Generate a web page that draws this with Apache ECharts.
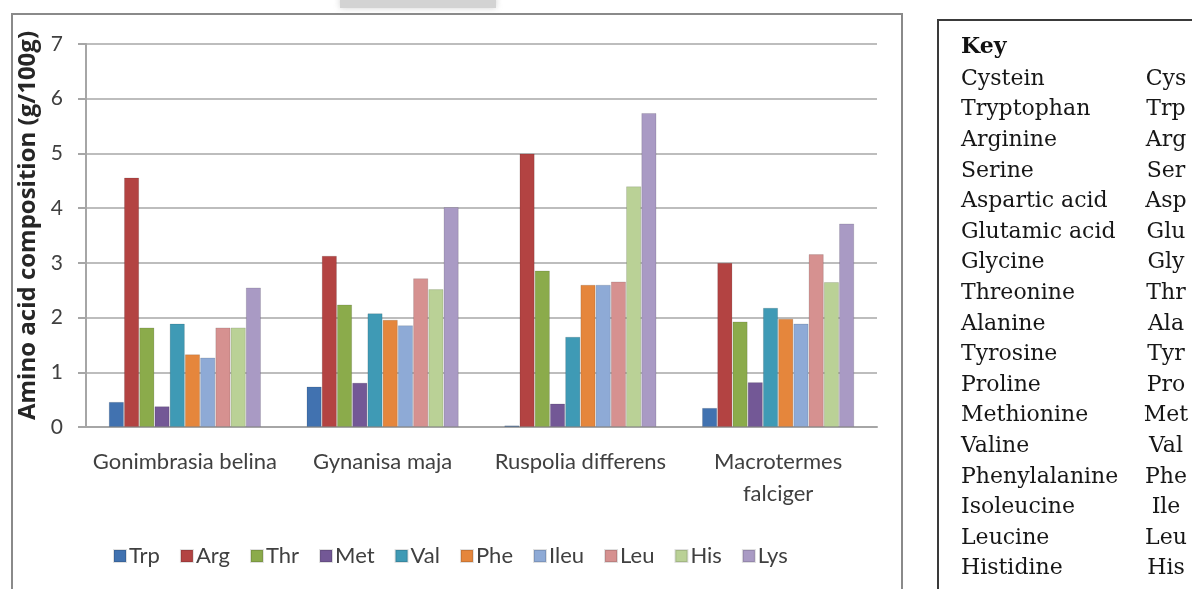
<!DOCTYPE html>
<html>
<head>
<meta charset="utf-8">
<style>
  html, body { margin: 0; padding: 0; background: #ffffff; }
  #chart { width: 1192px; height: 589px; }
</style>
<script src="https://cdn.jsdelivr.net/npm/echarts@6/dist/echarts.min.js"></script>
</head>
<body>
<div id="chart"></div>
<script>
// Insect species on the category axis
const species = ['Gonimbrasia belina', 'Gynanisa maja', 'Ruspolia differens', 'Macrotermes\nfalciger'];

// Amino acid content, g per 100 g, one array per amino acid (order follows species)
const trp  = [0.46, 0.74, 0.03, 0.35];
const arg  = [4.56, 3.13, 5.00, 3.00];
const thr  = [1.82, 2.24, 2.86, 1.93];
const met  = [0.38, 0.81, 0.43, 0.82];
const val  = [1.89, 2.08, 1.65, 2.18];
const phe  = [1.33, 1.96, 2.60, 1.98];
const ileu = [1.27, 1.86, 2.60, 1.89];
const leu  = [1.82, 2.72, 2.66, 3.16];
const his  = [1.82, 2.52, 4.40, 2.65];
const lys  = [2.55, 4.02, 5.74, 3.72];

const seriesNames = ['Trp', 'Arg', 'Thr', 'Met', 'Val', 'Phe', 'Ileu', 'Leu', 'His', 'Lys'];
const seriesValues = [trp, arg, thr, met, val, phe, ileu, leu, his, lys];
const seriesColors = ['#4172b0', '#b34342', '#8bab4b', '#735896', '#3f9ab5', '#e5863c', '#8eaad6', '#d69190', '#bad196', '#a99ac4'];

// Y axis ticks
const yTicks = [0, 1, 2, 3, 4, 5, 6, 7];

// Abbreviation key shown beside the chart
const keyNames = ['Cystein', 'Tryptophan', 'Arginine', 'Serine', 'Aspartic acid', 'Glutamic acid', 'Glycine',
  'Threonine', 'Alanine', 'Tyrosine', 'Proline', 'Methionine', 'Valine', 'Phenylalanine', 'Isoleucine', 'Leucine', 'Histidine'];
const keyAbbr = ['Cys', 'Trp', 'Arg', 'Ser', 'Asp', 'Glu', 'Gly', 'Thr', 'Ala', 'Tyr', 'Pro', 'Met', 'Val', 'Phe', 'Ile', 'Leu', 'His'];

const uiFont = 'Lato, "Open Sans", sans-serif';
const titleFont = '"Open Sans", Lato, sans-serif';
const keyFont = '"DejaVu Serif", "Liberation Serif", serif';

const chart = echarts.init(document.getElementById('chart'), null, { renderer: 'canvas' });

const keyGraphics = [];
keyGraphics.push({
  type: 'text', left: 961, top: 36, z: 10,
  style: { text: 'Key', font: 'bold 22px ' + keyFont, fill: '#111' }
});
keyNames.forEach((name, i) => {
  const y = 68 + i * 30.6;
  keyGraphics.push({
    type: 'text', x: 961, y: y, z: 10,
    style: { text: name, font: '22px ' + keyFont, fill: '#161616' }
  });
  keyGraphics.push({
    type: 'text', x: 1166, y: y, z: 10,
    style: { text: keyAbbr[i], font: '22px ' + keyFont, fill: '#161616', textAlign: 'center' }
  });
});

const option = {
  animation: false,
  backgroundColor: '#ffffff',
  textStyle: { fontFamily: uiFont },
  grid: { left: 86, right: 315, top: 44, bottom: 162, containLabel: false },
  legend: {
    left: 108, top: 540,
    itemWidth: 12, itemHeight: 12, itemGap: 20,
    icon: 'rect',
    textStyle: { fontSize: 22, color: '#404040', fontFamily: uiFont, padding: [0, 0, 0, -2] },
    data: seriesNames
  },
  xAxis: {
    type: 'category',
    data: species,
    axisLine: { show: true, lineStyle: { color: '#a6a6a6', width: 2 } },
    axisTick: { show: false },
    axisLabel: { interval: 0, color: '#404040', fontSize: 22, margin: 19, lineHeight: 32, fontFamily: uiFont }
  },
  yAxis: {
    type: 'value',
    min: 0, max: 7, interval: 1,
    name: 'Amino acid composition (g/100g)',
    nameLocation: 'middle',
    nameGap: 39,
    nameRotate: 90,
    nameTextStyle: { fontSize: 24, fontWeight: 'bold', color: '#262626', fontFamily: titleFont, padding: [0, 0, 0, 20] },
    axisLine: { show: true, lineStyle: { color: '#a6a6a6', width: 2 } },
    axisTick: { show: true, length: 8, lineStyle: { color: '#a6a6a6', width: 2 } },
    axisLabel: {
      color: '#404040', fontSize: 21, margin: 23, fontFamily: uiFont,
      formatter: v => (yTicks.includes(v) ? String(v) : '')
    },
    splitLine: { show: true, lineStyle: { color: '#bdbdbd', width: 2 } }
  },
  series: seriesNames.map((name, i) => ({
    name: name,
    type: 'bar',
    data: seriesValues[i],
    barGap: '0%',
    barCategoryGap: '23%',
    itemStyle: { color: seriesColors[i], borderColor: 'rgba(0,0,0,0.12)', borderWidth: 1 }
  })),
  graphic: [
    // outer frame of the chart panel
    {
      type: 'rect', z: 0, silent: true,
      shape: { x: 12, y: 14, width: 890, height: 600 },
      style: { fill: 'none', stroke: '#8a8a8a', lineWidth: 2 }
    },
    // faint grey strip along the top edge
    {
      type: 'rect', z: 0, silent: true,
      shape: { x: 340, y: -4, width: 156, height: 12 },
      style: { fill: '#d3d3d3', shadowBlur: 6, shadowColor: 'rgba(200,200,200,0.8)' }
    },
    // frame of the key box
    {
      type: 'rect', z: 0, silent: true,
      shape: { x: 938, y: 20, width: 300, height: 600 },
      style: { fill: 'none', stroke: '#3a3a3a', lineWidth: 2 }
    }
  ].concat(keyGraphics)
};

chart.setOption(option);
</script>
</body>
</html>
